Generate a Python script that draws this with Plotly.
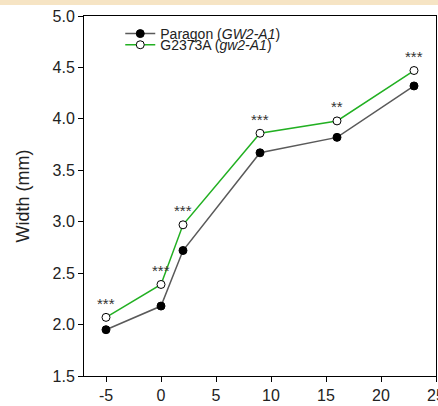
import plotly.graph_objects as go

days = [-5, 0, 2, 9, 16, 23]
paragon = [1.95, 2.18, 2.72, 3.67, 3.82, 4.32]
g2373a = [2.07, 2.39, 2.97, 3.86, 3.98, 4.47]
signif = ["***", "***", "***", "***", "**", "***"]
x_ticks = [-5, 0, 5, 10, 15, 20, 25]
x_ticklabels = ["-5", "0", "5", "10", "15", "20", "25"]
y_ticks = [1.5, 2.0, 2.5, 3.0, 3.5, 4.0, 4.5, 5.0]

FONT = "Arial, Liberation Sans, sans-serif"

fig = go.Figure()
fig.add_trace(go.Scatter(
    x=days, y=paragon, mode="lines+markers",
    name="Paragon (<i>GW2-A1</i>)", legend="legend",
    line=dict(color="#5a5a5a", width=1.5),
    marker=dict(color="black", size=8, line=dict(color="black", width=1)),
))
fig.add_trace(go.Scatter(
    x=days, y=g2373a, mode="lines+markers",
    name="G2373A (<i>gw2-A1</i>)", legend="legend2",
    line=dict(color="#22b022", width=1.5),
    marker=dict(color="white", size=8, line=dict(color="black", width=1)),
))

for xv, yv, s in zip(days, g2373a, signif):
    fig.add_annotation(x=xv, y=yv, text=s, showarrow=False, yshift=14,
                       font=dict(size=15, color="#333333", family=FONT))

fig.add_shape(type="rect", xref="paper", yref="paper",
              x0=-1, x1=2, y0=1 + 11/360, y1=1 + 20/360,
              fillcolor="#f6e4c4", line=dict(width=0), layer="above")

axis_common = dict(showline=True, linecolor="black", linewidth=1, mirror=True,
                   ticks="outside", ticklen=5, tickcolor="black", showgrid=False,
                   zeroline=False, automargin=False, ticklabeloverflow="allow",
                   tickfont=dict(size=16, color="#222", family=FONT))
fig.update_xaxes(range=[-7, 25], tickvals=x_ticks, ticktext=x_ticklabels, **axis_common)
fig.update_yaxes(range=[1.5, 5.0], tickvals=y_ticks, tickformat=".1f",
                 title=dict(text="Width (mm)", font=dict(size=18, color="#222", family=FONT),
                            standoff=18),
                 **axis_common)

leg = dict(xanchor="left", yanchor="middle", bgcolor="rgba(0,0,0,0)",
           font=dict(size=14, family=FONT, color="#222"), borderwidth=0)
fig.update_layout(
    width=438, height=406,
    margin=dict(l=84, r=2, t=16, b=30, autoexpand=False),
    plot_bgcolor="white", paper_bgcolor="white",
    font=dict(family=FONT, color="#222"),
    showlegend=True,
    legend=dict(x=0.103, y=0.95, **leg),
    legend2=dict(x=0.103, y=0.919, **leg),
)

fig.write_html("out.html", config={"displayModeBar": False},
               post_script="document.body.style.margin='0';")
